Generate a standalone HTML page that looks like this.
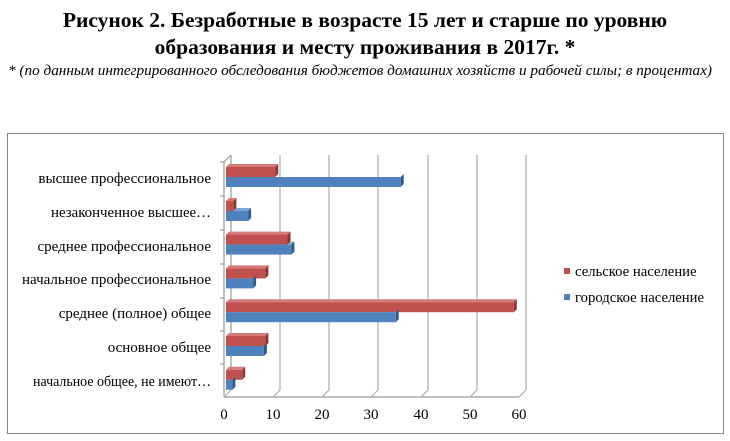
<!DOCTYPE html>
<html><head><meta charset="utf-8"><style>
body{margin:0;background:#fff;width:730px;height:441px;overflow:hidden}
svg{display:block}
</style></head><body>
<svg width="730" height="441" xmlns="http://www.w3.org/2000/svg" font-family="'Liberation Serif',serif">
<text x="365" y="27" text-anchor="middle" font-size="21.5" font-weight="bold">Рисунок 2. Безработные  в возрасте 15 лет и старше по уровню</text>
<text x="365" y="54" text-anchor="middle" font-size="21.5" font-weight="bold">образования и месту проживания  в 2017г. *</text>
<text x="360" y="75" text-anchor="middle" font-size="15" font-style="italic" textLength="704" lengthAdjust="spacingAndGlyphs">* (по данным интегрированного обследования бюджетов домашних хозяйств и рабочей силы; в процентах)</text>
<rect x="7.5" y="133.5" width="716" height="300" fill="none" stroke="#888" stroke-width="1"/>
<g stroke="#999" stroke-width="1.2" fill="none">
<line x1="231" y1="155" x2="231" y2="390"/>
<line x1="224" y1="162" x2="224" y2="397"/>
<line x1="224" y1="162" x2="231" y2="155"/>
<line x1="224" y1="397" x2="519" y2="397"/>
</g>
<g stroke="#aaa" stroke-width="1.2">
<line x1="224" y1="397" x2="231" y2="390"/>
<line x1="280" y1="155" x2="280" y2="390"/><line x1="273" y1="397" x2="280" y2="390"/>
<line x1="329" y1="155" x2="329" y2="390"/><line x1="322" y1="397" x2="329" y2="390"/>
<line x1="378" y1="155" x2="378" y2="390"/><line x1="371" y1="397" x2="378" y2="390"/>
<line x1="428" y1="155" x2="428" y2="390"/><line x1="421" y1="397" x2="428" y2="390"/>
<line x1="477" y1="155" x2="477" y2="390"/><line x1="470" y1="397" x2="477" y2="390"/>
<line x1="526" y1="155" x2="526" y2="390"/><line x1="519" y1="397" x2="526" y2="390"/>
</g>
<g stroke="#999" stroke-width="1.2">
<line x1="220" y1="162" x2="224" y2="162"/><line x1="220" y1="196" x2="224" y2="196"/>
<line x1="220" y1="230" x2="224" y2="230"/><line x1="220" y1="264" x2="224" y2="264"/>
<line x1="220" y1="298" x2="224" y2="298"/><line x1="220" y1="331" x2="224" y2="331"/>
<line x1="220" y1="364" x2="224" y2="364"/>
</g>
<!-- red bars -->
<g transform="translate(226,167)"><polygon points="0,0 3,-3 52.2,-3 49.2,0" fill="#d47a77"/><polygon points="49.2,0 52.2,-3 52.2,7 49.2,10" fill="#8e3432"/><rect width="49.2" height="10" fill="#c0504d"/></g>
<g transform="translate(226,201)"><polygon points="0,0 3,-3 10.4,-3 7.4,0" fill="#d47a77"/><polygon points="7.4,0 10.4,-3 10.4,7 7.4,10" fill="#8e3432"/><rect width="7.4" height="10" fill="#c0504d"/></g>
<g transform="translate(226,234.6)"><polygon points="0,0 3,-3 64.5,-3 61.5,0" fill="#d47a77"/><polygon points="61.5,0 64.5,-3 64.5,7 61.5,10" fill="#8e3432"/><rect width="61.5" height="10" fill="#c0504d"/></g>
<g transform="translate(226,268.4)"><polygon points="0,0 3,-3 42.4,-3 39.4,0" fill="#d47a77"/><polygon points="39.4,0 42.4,-3 42.4,7 39.4,10" fill="#8e3432"/><rect width="39.4" height="10" fill="#c0504d"/></g>
<g transform="translate(226,302.2)"><polygon points="0,0 3,-3 290.8,-3 287.8,0" fill="#d47a77"/><polygon points="287.8,0 290.8,-3 290.8,7 287.8,10" fill="#8e3432"/><rect width="287.8" height="10" fill="#c0504d"/></g>
<g transform="translate(226,336)"><polygon points="0,0 3,-3 42.4,-3 39.4,0" fill="#d47a77"/><polygon points="39.4,0 42.4,-3 42.4,7 39.4,10" fill="#8e3432"/><rect width="39.4" height="10" fill="#c0504d"/></g>
<g transform="translate(226,369.8)"><polygon points="0,0 3,-3 19.2,-3 16.2,0" fill="#d47a77"/><polygon points="16.2,0 19.2,-3 19.2,7 16.2,10" fill="#8e3432"/><rect width="16.2" height="10" fill="#c0504d"/></g>
<!-- blue bars -->
<g transform="translate(226,177)"><polygon points="174.7,0 177.7,-3 177.7,7 174.7,10" fill="#30598c"/><rect width="174.7" height="10" fill="#4f81bd"/></g>
<g transform="translate(226,211)"><polygon points="7.4,0 10.4,-3 25.1,-3 22.1,0" fill="#7ea2d2"/><polygon points="22.1,0 25.1,-3 25.1,7 22.1,10" fill="#30598c"/><rect width="22.1" height="10" fill="#4f81bd"/></g>
<g transform="translate(226,244.6)"><polygon points="61.5,0 64.5,-3 68.4,-3 65.4,0" fill="#7ea2d2"/><polygon points="65.4,0 68.4,-3 68.4,7 65.4,10" fill="#30598c"/><rect width="65.4" height="10" fill="#4f81bd"/></g>
<g transform="translate(226,278.4)"><polygon points="27.1,0 30.1,-3 30.1,7 27.1,10" fill="#30598c"/><rect width="27.1" height="10" fill="#4f81bd"/></g>
<g transform="translate(226,312.2)"><polygon points="169.7,0 172.7,-3 172.7,7 169.7,10" fill="#30598c"/><rect width="169.7" height="10" fill="#4f81bd"/></g>
<g transform="translate(226,346)"><polygon points="37.9,0 40.9,-3 40.9,7 37.9,10" fill="#30598c"/><rect width="37.9" height="10" fill="#4f81bd"/></g>
<g transform="translate(226,379.8)"><polygon points="6.4,0 9.4,-3 9.4,7 6.4,10" fill="#30598c"/><rect width="6.4" height="10" fill="#4f81bd"/></g>
<g font-size="15" text-anchor="end">
<text x="211" y="183">высшее профессиональное</text>
<text x="211" y="217" textLength="160" lengthAdjust="spacingAndGlyphs">незаконченное высшее…</text>
<text x="211" y="251">среднее профессиональное</text>
<text x="211" y="284">начальное профессиональное</text>
<text x="211" y="318">среднее (полное) общее</text>
<text x="211" y="352">основное общее</text>
<text x="211" y="386" textLength="178" lengthAdjust="spacingAndGlyphs">начальное общее, не имеют…</text>
</g>
<g font-size="15" text-anchor="middle">
<text x="224" y="419">0</text><text x="273" y="419">10</text><text x="322" y="419">20</text>
<text x="371" y="419">30</text><text x="421" y="419">40</text><text x="470" y="419">50</text><text x="519" y="419">60</text>
</g>
<rect x="564" y="268" width="6" height="6" fill="#c0504d"/>
<text x="575" y="276" font-size="14.7">сельское население</text>
<rect x="564" y="294" width="6" height="6" fill="#4f81bd"/>
<text x="575" y="302" font-size="14.7">городское население</text>
</svg>
</body></html>
